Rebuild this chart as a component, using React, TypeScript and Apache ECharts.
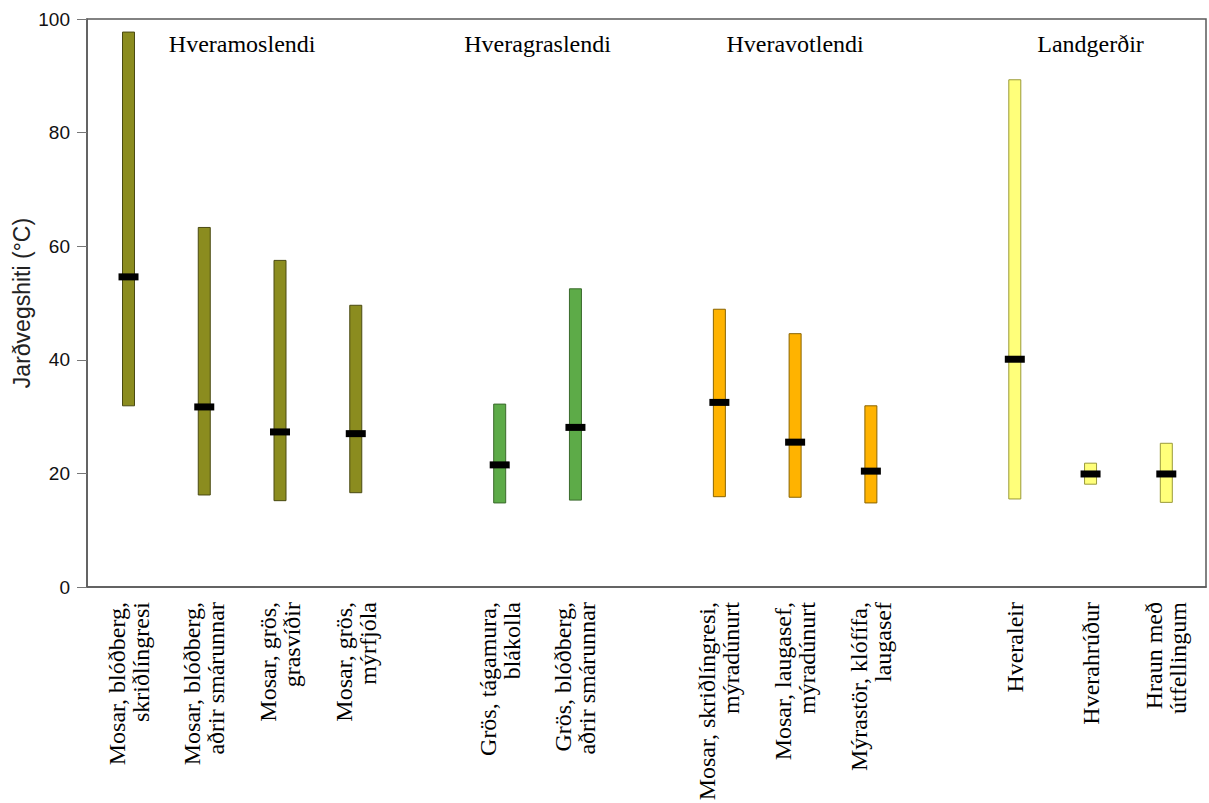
import React, { useEffect, useRef } from "react";
import * as echarts from "echarts";

const categories = [
  "Mosar, blóðberg,\nskriðlíngresi",
  "Mosar, blóðberg,\naðrir smárunnar",
  "Mosar, grös,\ngrasvíðir",
  "Mosar, grös,\nmýrfjóla",
  "Grös, tágamura,\nblákolla",
  "Grös, blóðberg,\naðrir smárunnar",
  "Mosar, skriðlíngresi,\nmýradúnurt",
  "Mosar, laugasef,\nmýradúnurt",
  "Mýrastör, klófífa,\nlaugasef",
  "Hveraleir",
  "Hverahrúður",
  "Hraun með\nútfellingum",
];
const groupOf = [0, 0, 0, 0, 1, 1, 2, 2, 2, 3, 3, 3];
const groupNames = ["Hveramoslendi", "Hveragraslendi", "Hveravotlendi", "Landgerðir"];
const minVals = [31.9, 16.2, 15.2, 16.6, 14.8, 15.3, 15.9, 15.8, 14.8, 15.5, 18.1, 14.9];
const maxVals = [97.7, 63.3, 57.5, 49.6, 32.2, 52.5, 48.9, 44.6, 31.9, 89.3, 21.8, 25.3];
const meanVals = [54.6, 31.7, 27.3, 27.0, 21.5, 28.1, 32.5, 25.5, 20.4, 40.1, 19.9, 19.9];
const yTicks = [0, 20, 40, 60, 80, 100];

const groupColors = ["#8b8c1f", "#5dab48", "#ffb300", "#ffff7a"];
const groupBorders = ["#4a4a12", "#3a6a2c", "#8a6400", "#9a9a3a"];
const GROUP_GAP = 0.9;
const GROUP_LABEL_Y = 95.6;

const xPos = categories.map((_, i) => i + groupOf[i] * GROUP_GAP);
const groupCenters = groupNames.map((_, g) => {
  const xs = xPos.filter((_, i) => groupOf[i] === g);
  return (xs[0] + xs[xs.length - 1]) / 2;
});

export default function App() {
  const ref = useRef<HTMLDivElement>(null);
  useEffect(() => {
    if (!ref.current) return;
    const chart = echarts.init(ref.current, null, { renderer: "svg" });
    const option: any = {
      animation: false,
      backgroundColor: "#ffffff",
      grid: {
        left: 87,
        right: 3,
        top: 19,
        bottom: 216,
        containLabel: false,
        outerBoundsMode: "none",
        show: true,
        borderColor: "#5a5a5a",
        borderWidth: 1.5,
        backgroundColor: "transparent",
      },
      xAxis: {
        type: "value",
        min: -0.548,
        max: 14.224,
        axisLine: { show: true, onZero: false, lineStyle: { color: "#5a5a5a", width: 1.5 } },
        axisTick: { show: false },
        splitLine: { show: false },
        axisLabel: {
          customValues: xPos,
          rotate: 90,
          margin: 15,
          fontFamily: "Liberation Serif",
          fontSize: 24,
          lineHeight: 24,
          color: "#000",
          formatter: (v: number) => {
            const i = xPos.findIndex((p) => Math.abs(p - v) < 1e-6);
            return i >= 0 ? categories[i] : "";
          },
        },
      },
      yAxis: {
        type: "value",
        min: 0,
        max: 100,
        interval: 20,
        name: "Jarðvegshiti (°C)",
        nameLocation: "middle",
        nameGap: 54,
        nameMoveOverlap: false,
        nameTextStyle: { fontFamily: "Liberation Sans", fontSize: 23, color: "#222" },
        axisLine: { show: true, onZero: false, lineStyle: { color: "#5a5a5a", width: 1.5 } },
        axisTick: { show: true, inside: false, length: 10, lineStyle: { color: "#777" } },
        splitLine: { show: false },
        axisLabel: {
          margin: 17,
          fontFamily: "Liberation Sans",
          fontSize: 19,
          color: "#111",
          customValues: yTicks,
        },
      },
      series: [
        {
          type: "custom",
          name: "range",
          encode: { x: 0, y: [1, 2] },
          data: xPos.map((x, i) => [x, minVals[i], maxVals[i], groupOf[i]]),
          renderItem: (params: any, api: any) => {
            const x = api.value(0);
            const lo = api.coord([x, api.value(1)]);
            const hi = api.coord([x, api.value(2)]);
            const g = api.value(3);
            const w = 12;
            return {
              type: "rect",
              shape: { x: lo[0] - w / 2, y: hi[1], width: w, height: lo[1] - hi[1] },
              style: { fill: groupColors[g], stroke: groupBorders[g], lineWidth: 1 },
            };
          },
          z: 2,
        },
        {
          type: "scatter",
          name: "mean",
          data: xPos.map((x, i) => [x, meanVals[i]]),
          symbol: "rect",
          symbolSize: [20, 7],
          itemStyle: { color: "#000", opacity: 1 },
          z: 3,
        },
      ],
    };
    chart.setOption(option);
    const graphic = groupCenters.map((x, g) => {
      const p = chart.convertToPixel({ gridIndex: 0 }, [x, GROUP_LABEL_Y]) as number[];
      return {
        type: "text",
        x: p[0],
        y: p[1],
        style: {
          text: groupNames[g],
          fontFamily: "Liberation Serif",
          fontSize: 24,
          fill: "#000",
          align: "center",
          verticalAlign: "middle",
        },
        z: 10,
      };
    });
    chart.setOption({ graphic });
    return () => chart.dispose();
  }, []);
  return (
    <div
      ref={ref}
      style={{ position: "fixed", left: 0, top: 0, width: 1209, height: 803, background: "#fff" }}
    />
  );
}
